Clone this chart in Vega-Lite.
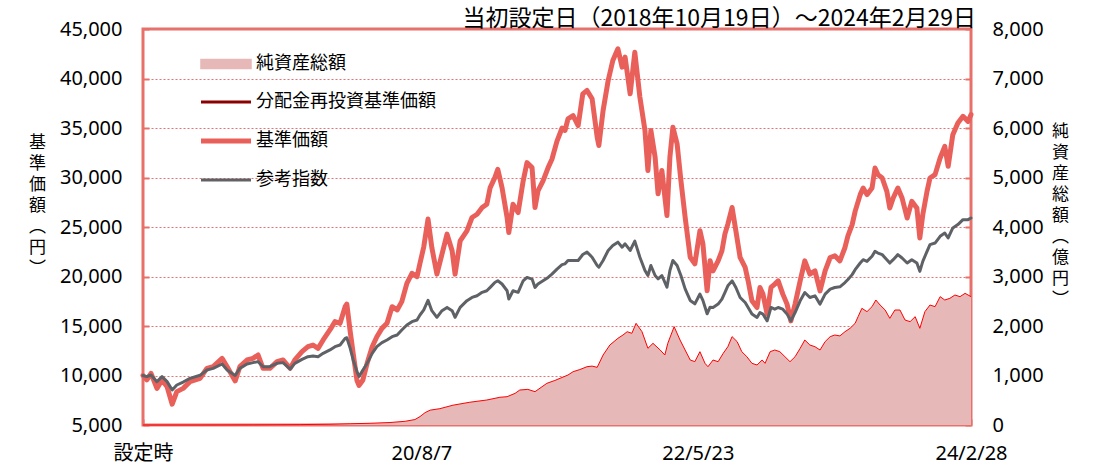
{
  "$schema": "https://vega.github.io/schema/vega-lite/v6.json",
  "width": 828,
  "height": 396,
  "autosize": {"type": "none"},
  "padding": {"left": 143, "top": 29, "right": 132, "bottom": 48},
  "background": "white",
  "config": {
    "view": {"stroke": "#E8706A", "strokeWidth": 3},
    "font": "Noto Sans CJK JP",
    "axis": {
      "labelFont": "Noto Sans, Noto Sans CJK JP",
      "labelFontSize": 20,
      "labelColor": "#000000",
      "titleFont": "Noto Sans CJK JP",
      "titleFontSize": 17,
      "titleFontWeight": "normal",
      "titleColor": "#000000",
      "domain": false,
      "tickColor": "#E8706A",
      "tickWidth": 2,
      "tickSize": -6
    }
  },
  "title": {
    "text": "当初設定日（2018年10月19日）～2024年2月29日",
    "anchor": "end",
    "frame": "group",
    "font": "Noto Sans CJK JP",
    "fontSize": 23,
    "fontWeight": "normal",
    "color": "#000000",
    "offset": -12,
    "dx": 5
  },
  "datasets": {
    "lines": [
      {"date": "2018-10-19", "nav": 10000, "idx": 10000},
      {"date": "2018-10-28", "nav": 9550, "idx": 9880},
      {"date": "2018-11-07", "nav": 10220, "idx": 10050},
      {"date": "2018-11-21", "nav": 8700, "idx": 9380},
      {"date": "2018-12-03", "nav": 9550, "idx": 9880},
      {"date": "2018-12-15", "nav": 8870, "idx": 9380},
      {"date": "2018-12-27", "nav": 7100, "idx": 8540},
      {"date": "2019-01-07", "nav": 8370, "idx": 9040},
      {"date": "2019-01-22", "nav": 8700, "idx": 9340},
      {"date": "2019-02-07", "nav": 9380, "idx": 9710},
      {"date": "2019-03-03", "nav": 9710, "idx": 10020},
      {"date": "2019-03-19", "nav": 10720, "idx": 10560},
      {"date": "2019-04-03", "nav": 10890, "idx": 10720},
      {"date": "2019-04-24", "nav": 11730, "idx": 11160},
      {"date": "2019-05-06", "nav": 10890, "idx": 10560},
      {"date": "2019-05-25", "nav": 9450, "idx": 10000},
      {"date": "2019-06-05", "nav": 10890, "idx": 10720},
      {"date": "2019-06-22", "nav": 11570, "idx": 11160},
      {"date": "2019-07-06", "nav": 11730, "idx": 11300},
      {"date": "2019-07-18", "nav": 12070, "idx": 11400},
      {"date": "2019-07-30", "nav": 10720, "idx": 10890},
      {"date": "2019-08-15", "nav": 10720, "idx": 10890},
      {"date": "2019-09-01", "nav": 11400, "idx": 11230},
      {"date": "2019-09-15", "nav": 11570, "idx": 11300},
      {"date": "2019-10-02", "nav": 10720, "idx": 10650},
      {"date": "2019-10-13", "nav": 11570, "idx": 11230},
      {"date": "2019-10-30", "nav": 12410, "idx": 11630},
      {"date": "2019-11-13", "nav": 12910, "idx": 11900},
      {"date": "2019-11-25", "nav": 13080, "idx": 11970},
      {"date": "2019-12-07", "nav": 12740, "idx": 11900},
      {"date": "2019-12-19", "nav": 13590, "idx": 12240},
      {"date": "2020-01-04", "nav": 14600, "idx": 12580},
      {"date": "2020-01-16", "nav": 15440, "idx": 12910},
      {"date": "2020-01-28", "nav": 15270, "idx": 13080},
      {"date": "2020-02-09", "nav": 16950, "idx": 13750},
      {"date": "2020-02-13", "nav": 17220, "idx": 13820},
      {"date": "2020-02-21", "nav": 14430, "idx": 12740},
      {"date": "2020-02-28", "nav": 12240, "idx": 11570},
      {"date": "2020-03-08", "nav": 9500, "idx": 10400},
      {"date": "2020-03-13", "nav": 9000, "idx": 9900},
      {"date": "2020-03-22", "nav": 9550, "idx": 10560},
      {"date": "2020-04-01", "nav": 11230, "idx": 11230},
      {"date": "2020-04-13", "nav": 12910, "idx": 12240},
      {"date": "2020-04-24", "nav": 13920, "idx": 12910},
      {"date": "2020-05-06", "nav": 14760, "idx": 13320},
      {"date": "2020-05-18", "nav": 15270, "idx": 13590},
      {"date": "2020-05-30", "nav": 16950, "idx": 13920},
      {"date": "2020-06-11", "nav": 16620, "idx": 14090},
      {"date": "2020-06-22", "nav": 17460, "idx": 14600},
      {"date": "2020-07-04", "nav": 19310, "idx": 15100},
      {"date": "2020-07-16", "nav": 20320, "idx": 15440},
      {"date": "2020-07-28", "nav": 19980, "idx": 15610},
      {"date": "2020-08-04", "nav": 21330, "idx": 16110},
      {"date": "2020-08-13", "nav": 23010, "idx": 16620},
      {"date": "2020-08-23", "nav": 25800, "idx": 17600},
      {"date": "2020-09-01", "nav": 22930, "idx": 16550},
      {"date": "2020-09-13", "nav": 20240, "idx": 15880},
      {"date": "2020-09-25", "nav": 22260, "idx": 16550},
      {"date": "2020-10-07", "nav": 24280, "idx": 16880},
      {"date": "2020-10-19", "nav": 22600, "idx": 16550},
      {"date": "2020-10-26", "nav": 20240, "idx": 15880},
      {"date": "2020-11-07", "nav": 23600, "idx": 16880},
      {"date": "2020-11-23", "nav": 24610, "idx": 17560},
      {"date": "2020-12-05", "nav": 25960, "idx": 17890},
      {"date": "2020-12-17", "nav": 26290, "idx": 18060},
      {"date": "2020-12-29", "nav": 26960, "idx": 18400},
      {"date": "2021-01-09", "nav": 27300, "idx": 18560},
      {"date": "2021-01-17", "nav": 28980, "idx": 18900},
      {"date": "2021-01-28", "nav": 29990, "idx": 19400},
      {"date": "2021-02-04", "nav": 30830, "idx": 19570},
      {"date": "2021-02-14", "nav": 28980, "idx": 19240},
      {"date": "2021-02-26", "nav": 25960, "idx": 18560},
      {"date": "2021-03-02", "nav": 24440, "idx": 17720},
      {"date": "2021-03-12", "nav": 27300, "idx": 18560},
      {"date": "2021-03-24", "nav": 26460, "idx": 18400},
      {"date": "2021-04-05", "nav": 29650, "idx": 19570},
      {"date": "2021-04-14", "nav": 31500, "idx": 19910},
      {"date": "2021-04-26", "nav": 31000, "idx": 19740},
      {"date": "2021-05-03", "nav": 26960, "idx": 18900},
      {"date": "2021-05-10", "nav": 28640, "idx": 19240},
      {"date": "2021-05-22", "nav": 29650, "idx": 19570},
      {"date": "2021-06-03", "nav": 31000, "idx": 19910},
      {"date": "2021-06-12", "nav": 31840, "idx": 20240},
      {"date": "2021-06-24", "nav": 33680, "idx": 20750},
      {"date": "2021-07-06", "nav": 35000, "idx": 21200},
      {"date": "2021-07-13", "nav": 34750, "idx": 21280},
      {"date": "2021-07-20", "nav": 35930, "idx": 21620},
      {"date": "2021-08-01", "nav": 36260, "idx": 21620},
      {"date": "2021-08-13", "nav": 35250, "idx": 21620},
      {"date": "2021-08-24", "nav": 38450, "idx": 22220},
      {"date": "2021-09-03", "nav": 38790, "idx": 22460},
      {"date": "2021-09-15", "nav": 37950, "idx": 21950},
      {"date": "2021-09-27", "nav": 34070, "idx": 21110},
      {"date": "2021-10-01", "nav": 33230, "idx": 20940},
      {"date": "2021-10-11", "nav": 36770, "idx": 21620},
      {"date": "2021-10-23", "nav": 39800, "idx": 22630},
      {"date": "2021-11-03", "nav": 41820, "idx": 23130},
      {"date": "2021-11-15", "nav": 43000, "idx": 23470},
      {"date": "2021-11-25", "nav": 41150, "idx": 22960},
      {"date": "2021-12-02", "nav": 42160, "idx": 23300},
      {"date": "2021-12-14", "nav": 38450, "idx": 22630},
      {"date": "2021-12-25", "nav": 42660, "idx": 23570},
      {"date": "2022-01-06", "nav": 38120, "idx": 21950},
      {"date": "2022-01-18", "nav": 34750, "idx": 20610},
      {"date": "2022-01-25", "nav": 30710, "idx": 20100},
      {"date": "2022-02-01", "nav": 34750, "idx": 21110},
      {"date": "2022-02-11", "nav": 32050, "idx": 20100},
      {"date": "2022-02-18", "nav": 28350, "idx": 19760},
      {"date": "2022-02-27", "nav": 30710, "idx": 20100},
      {"date": "2022-03-11", "nav": 26160, "idx": 18920},
      {"date": "2022-03-18", "nav": 32050, "idx": 20610},
      {"date": "2022-03-25", "nav": 35080, "idx": 21620},
      {"date": "2022-04-04", "nav": 33400, "idx": 21110},
      {"date": "2022-04-13", "nav": 29700, "idx": 20100},
      {"date": "2022-04-23", "nav": 25990, "idx": 18750},
      {"date": "2022-05-05", "nav": 21950, "idx": 17580},
      {"date": "2022-05-16", "nav": 21280, "idx": 17240},
      {"date": "2022-05-28", "nav": 24630, "idx": 18230},
      {"date": "2022-06-04", "nav": 23300, "idx": 17590},
      {"date": "2022-06-14", "nav": 18570, "idx": 16230},
      {"date": "2022-06-21", "nav": 21600, "idx": 16900},
      {"date": "2022-06-28", "nav": 20570, "idx": 16870},
      {"date": "2022-07-10", "nav": 21580, "idx": 17210},
      {"date": "2022-07-19", "nav": 22590, "idx": 17710},
      {"date": "2022-07-26", "nav": 24280, "idx": 18380},
      {"date": "2022-08-02", "nav": 25290, "idx": 19060},
      {"date": "2022-08-12", "nav": 26970, "idx": 19560},
      {"date": "2022-08-21", "nav": 24610, "idx": 18890},
      {"date": "2022-08-31", "nav": 21920, "idx": 17880},
      {"date": "2022-09-12", "nav": 20910, "idx": 17370},
      {"date": "2022-09-19", "nav": 19560, "idx": 16870},
      {"date": "2022-09-28", "nav": 17540, "idx": 16200},
      {"date": "2022-10-10", "nav": 16870, "idx": 15860},
      {"date": "2022-10-17", "nav": 18890, "idx": 16360},
      {"date": "2022-10-24", "nav": 18220, "idx": 16200},
      {"date": "2022-11-03", "nav": 16200, "idx": 15520},
      {"date": "2022-11-12", "nav": 18890, "idx": 16870},
      {"date": "2022-11-21", "nav": 19230, "idx": 16700},
      {"date": "2022-11-29", "nav": 19560, "idx": 16870},
      {"date": "2022-12-10", "nav": 18220, "idx": 16700},
      {"date": "2022-12-20", "nav": 17210, "idx": 16200},
      {"date": "2022-12-29", "nav": 15520, "idx": 15520},
      {"date": "2023-01-08", "nav": 17210, "idx": 16360},
      {"date": "2023-01-20", "nav": 19560, "idx": 17540},
      {"date": "2023-01-31", "nav": 21580, "idx": 18380},
      {"date": "2023-02-12", "nav": 20240, "idx": 17880},
      {"date": "2023-02-24", "nav": 20570, "idx": 18050},
      {"date": "2023-03-08", "nav": 18550, "idx": 17210},
      {"date": "2023-03-20", "nav": 20570, "idx": 18220},
      {"date": "2023-04-01", "nav": 21920, "idx": 18720},
      {"date": "2023-04-12", "nav": 22090, "idx": 18890},
      {"date": "2023-04-24", "nav": 21580, "idx": 18960},
      {"date": "2023-05-06", "nav": 22930, "idx": 19390},
      {"date": "2023-05-13", "nav": 24100, "idx": 19700},
      {"date": "2023-05-23", "nav": 25240, "idx": 20190},
      {"date": "2023-05-30", "nav": 26580, "idx": 20690},
      {"date": "2023-06-11", "nav": 28270, "idx": 21360},
      {"date": "2023-06-18", "nav": 28940, "idx": 21700},
      {"date": "2023-06-27", "nav": 28270, "idx": 21530},
      {"date": "2023-07-09", "nav": 28940, "idx": 22040},
      {"date": "2023-07-16", "nav": 30960, "idx": 22540},
      {"date": "2023-07-23", "nav": 30290, "idx": 22370},
      {"date": "2023-08-02", "nav": 29950, "idx": 22210},
      {"date": "2023-08-13", "nav": 28600, "idx": 21700},
      {"date": "2023-08-20", "nav": 26920, "idx": 21360},
      {"date": "2023-08-28", "nav": 27930, "idx": 21700},
      {"date": "2023-09-08", "nav": 28940, "idx": 22210},
      {"date": "2023-09-18", "nav": 27930, "idx": 21870},
      {"date": "2023-09-30", "nav": 25910, "idx": 21360},
      {"date": "2023-10-11", "nav": 27590, "idx": 21700},
      {"date": "2023-10-23", "nav": 26920, "idx": 21360},
      {"date": "2023-10-30", "nav": 23890, "idx": 20520},
      {"date": "2023-11-06", "nav": 26250, "idx": 21530},
      {"date": "2023-11-16", "nav": 28600, "idx": 22540},
      {"date": "2023-11-23", "nav": 29950, "idx": 23220},
      {"date": "2023-12-05", "nav": 30290, "idx": 23380},
      {"date": "2023-12-17", "nav": 31970, "idx": 24060},
      {"date": "2023-12-28", "nav": 33150, "idx": 24390},
      {"date": "2024-01-05", "nav": 31130, "idx": 23890},
      {"date": "2024-01-16", "nav": 34330, "idx": 24900},
      {"date": "2024-01-28", "nav": 35510, "idx": 25240},
      {"date": "2024-02-09", "nav": 36180, "idx": 25740},
      {"date": "2024-02-21", "nav": 35670, "idx": 25740},
      {"date": "2024-02-28", "nav": 36350, "idx": 25910}
    ],
    "assets": [
      {"date": "2018-10-19", "assets": 0},
      {"date": "2019-03-03", "assets": 0},
      {"date": "2019-06-29", "assets": 2},
      {"date": "2019-10-25", "assets": 8},
      {"date": "2020-01-04", "assets": 15},
      {"date": "2020-02-21", "assets": 25},
      {"date": "2020-04-08", "assets": 35},
      {"date": "2020-05-25", "assets": 50},
      {"date": "2020-06-30", "assets": 75},
      {"date": "2020-07-23", "assets": 110},
      {"date": "2020-08-04", "assets": 170},
      {"date": "2020-08-16", "assets": 250},
      {"date": "2020-08-28", "assets": 300},
      {"date": "2020-09-20", "assets": 330},
      {"date": "2020-10-21", "assets": 400},
      {"date": "2020-11-30", "assets": 460},
      {"date": "2021-01-09", "assets": 505},
      {"date": "2021-02-09", "assets": 560},
      {"date": "2021-02-26", "assets": 572},
      {"date": "2021-03-17", "assets": 640},
      {"date": "2021-03-28", "assets": 707},
      {"date": "2021-04-16", "assets": 720},
      {"date": "2021-05-03", "assets": 673},
      {"date": "2021-05-31", "assets": 842},
      {"date": "2021-06-19", "assets": 900},
      {"date": "2021-07-01", "assets": 943},
      {"date": "2021-07-20", "assets": 1010},
      {"date": "2021-08-01", "assets": 1077},
      {"date": "2021-08-17", "assets": 1120},
      {"date": "2021-09-03", "assets": 1178},
      {"date": "2021-09-15", "assets": 1190},
      {"date": "2021-09-27", "assets": 1165},
      {"date": "2021-10-11", "assets": 1414},
      {"date": "2021-10-27", "assets": 1616},
      {"date": "2021-11-15", "assets": 1751},
      {"date": "2021-11-27", "assets": 1818},
      {"date": "2021-12-07", "assets": 1885},
      {"date": "2021-12-18", "assets": 1852},
      {"date": "2021-12-28", "assets": 2054},
      {"date": "2022-01-11", "assets": 1885},
      {"date": "2022-01-25", "assets": 1549},
      {"date": "2022-02-06", "assets": 1650},
      {"date": "2022-02-23", "assets": 1515},
      {"date": "2022-03-06", "assets": 1414},
      {"date": "2022-03-13", "assets": 1650},
      {"date": "2022-03-28", "assets": 1987},
      {"date": "2022-04-11", "assets": 1717},
      {"date": "2022-04-23", "assets": 1515},
      {"date": "2022-05-05", "assets": 1313},
      {"date": "2022-05-16", "assets": 1280},
      {"date": "2022-05-28", "assets": 1481},
      {"date": "2022-06-09", "assets": 1246},
      {"date": "2022-06-16", "assets": 1178},
      {"date": "2022-06-28", "assets": 1313},
      {"date": "2022-07-10", "assets": 1279},
      {"date": "2022-07-22", "assets": 1448},
      {"date": "2022-08-02", "assets": 1582},
      {"date": "2022-08-12", "assets": 1785},
      {"date": "2022-08-24", "assets": 1684},
      {"date": "2022-09-04", "assets": 1481},
      {"date": "2022-09-16", "assets": 1380},
      {"date": "2022-09-28", "assets": 1246},
      {"date": "2022-10-10", "assets": 1212},
      {"date": "2022-10-22", "assets": 1313},
      {"date": "2022-10-29", "assets": 1246},
      {"date": "2022-11-10", "assets": 1481},
      {"date": "2022-11-21", "assets": 1515},
      {"date": "2022-12-03", "assets": 1481},
      {"date": "2022-12-15", "assets": 1380},
      {"date": "2022-12-27", "assets": 1279},
      {"date": "2023-01-08", "assets": 1380},
      {"date": "2023-01-20", "assets": 1549},
      {"date": "2023-01-31", "assets": 1717},
      {"date": "2023-02-12", "assets": 1616},
      {"date": "2023-02-24", "assets": 1582},
      {"date": "2023-03-08", "assets": 1515},
      {"date": "2023-03-20", "assets": 1684},
      {"date": "2023-04-01", "assets": 1785},
      {"date": "2023-04-12", "assets": 1818},
      {"date": "2023-04-24", "assets": 1800},
      {"date": "2023-05-06", "assets": 1885},
      {"date": "2023-05-18", "assets": 1953},
      {"date": "2023-05-30", "assets": 2054},
      {"date": "2023-06-06", "assets": 2189},
      {"date": "2023-06-15", "assets": 2357},
      {"date": "2023-06-27", "assets": 2290},
      {"date": "2023-07-09", "assets": 2391},
      {"date": "2023-07-18", "assets": 2525},
      {"date": "2023-07-28", "assets": 2424},
      {"date": "2023-08-09", "assets": 2323},
      {"date": "2023-08-20", "assets": 2155},
      {"date": "2023-09-01", "assets": 2323},
      {"date": "2023-09-13", "assets": 2323},
      {"date": "2023-09-25", "assets": 2121},
      {"date": "2023-10-07", "assets": 2088},
      {"date": "2023-10-19", "assets": 2189},
      {"date": "2023-10-30", "assets": 1953},
      {"date": "2023-11-11", "assets": 2290},
      {"date": "2023-11-23", "assets": 2424},
      {"date": "2023-12-05", "assets": 2391},
      {"date": "2023-12-17", "assets": 2593},
      {"date": "2023-12-28", "assets": 2525},
      {"date": "2024-01-09", "assets": 2559},
      {"date": "2024-01-21", "assets": 2626},
      {"date": "2024-02-02", "assets": 2593},
      {"date": "2024-02-14", "assets": 2660},
      {"date": "2024-02-28", "assets": 2593}
    ]
  },
  "encoding": {
    "x": {
      "field": "date",
      "type": "temporal",
      "scale": {
        "type": "utc",
        "nice": false,
        "domain": [
          {"year": 2018, "month": 10, "date": 19, "utc": true},
          {"year": 2024, "month": 2, "date": 28, "utc": true}
        ]
      },
      "axis": {
        "title": null,
        "grid": false,
        "labelFlush": false,
        "labelPadding": 24,
        "labelFont": "Noto Sans, Noto Sans CJK JP",
        "values": [
          {"year": 2018, "month": 10, "date": 19, "utc": true},
          {"year": 2020, "month": 8, "date": 7, "utc": true},
          {"year": 2022, "month": 5, "date": 23, "utc": true},
          {"year": 2024, "month": 2, "date": 28, "utc": true}
        ],
        "labelExpr": "utcyear(datum.value) == 2018 ? '設定時' : utcFormat(datum.value, '%y/%-m/%-d')"
      }
    }
  },
  "layer": [
    {
      "data": {"name": "assets"},
      "mark": {
        "type": "area",
        "color": "#E6B8B7",
        "opacity": 1,
        "line": {"color": "#FF0000", "strokeWidth": 1}
      },
      "encoding": {
        "y": {
          "field": "assets",
          "type": "quantitative",
          "scale": {"domain": [0, 8000], "nice": false},
          "axis": {
            "orient": "right",
            "values": [0, 1000, 2000, 3000, 4000, 5000, 6000, 7000, 8000],
            "format": ",d",
            "grid": false,
            "labelPadding": 27,
            "title": ["純", "資", "産", "総", "額", "︵", "億", "円", "︶"],
            "titleAngle": 0,
            "titleAlign": "center",
            "titleBaseline": "top",
            "titleX": 89,
            "titleY": 94,
            "titleLineHeight": 21
          }
        }
      }
    },
    {
      "data": {"name": "lines"},
      "transform": [{"fold": ["nav", "idx"], "as": ["key", "value"]}],
      "mark": {"type": "line", "strokeJoin": "round", "strokeCap": "round"},
      "encoding": {
        "y": {
          "field": "value",
          "type": "quantitative",
          "scale": {"domain": [5000, 45000], "nice": false},
          "axis": {
            "orient": "left",
            "values": [5000, 10000, 15000, 20000, 25000, 30000, 35000, 40000, 45000],
            "format": ",d",
            "grid": true,
            "gridColor": "#E57373",
            "gridDash": [2, 2],
            "gridWidth": 1,
            "labelPadding": 27,
            "title": ["基", "準", "価", "額", "︵", "円", "︶"],
            "titleAngle": 0,
            "titleAlign": "center",
            "titleBaseline": "top",
            "titleX": -106,
            "titleY": 105,
            "titleLineHeight": 21
          }
        },
        "color": {
          "field": "key",
          "type": "nominal",
          "scale": {
            "domain": ["assets", "reinv", "nav", "idx"],
            "range": ["#E6B8B7", "#8B0000", "#E9605B", "#5E6266"]
          },
          "legend": {
            "orient": "none",
            "legendX": 74,
            "legendY": 26,
            "title": null,
            "padding": 0,
            "symbolType": "stroke",
            "symbolSize": 100,
            "rowPadding": 20,
            "labelFont": "Noto Sans CJK JP",
            "labelFontSize": 18,
            "labelLimit": 0,
            "labelColor": "#000000",
            "labelOffset": 21,
            "labelExpr": "datum.value == 'assets' ? '純資産総額' : datum.value == 'reinv' ? '分配金再投資基準価額' : datum.value == 'nav' ? '基準価額' : '参考指数'",
            "encode": {
              "symbols": {
                "update": {
                  "shape": {"signal": "datum.value == 'assets' ? 'M-5,-0.9H5V0.9H-5Z' : 'M-5,0H5'"},
                  "fill": {"signal": "datum.value == 'assets' ? '#E6B8B7' : 'transparent'"},
                  "stroke": {"signal": "datum.value == 'assets' ? '#E00000' : datum.value == 'reinv' ? '#8B0000' : datum.value == 'nav' ? '#E9605B' : '#707478'"},
                  "strokeWidth": {"signal": "datum.value == 'assets' ? 1.5 : datum.value == 'nav' ? 5 : 3"},
                  "strokeOpacity": {"value": 1},
                  "opacity": {"value": 1}
                }
              }
            }
          }
        },
        "strokeWidth": {
          "field": "key",
          "type": "ordinal",
          "scale": {"domain": ["nav", "idx"], "range": [5, 3]},
          "legend": null
        }
      }
    }
  ],
  "resolve": {"scale": {"y": "independent"}}
}
